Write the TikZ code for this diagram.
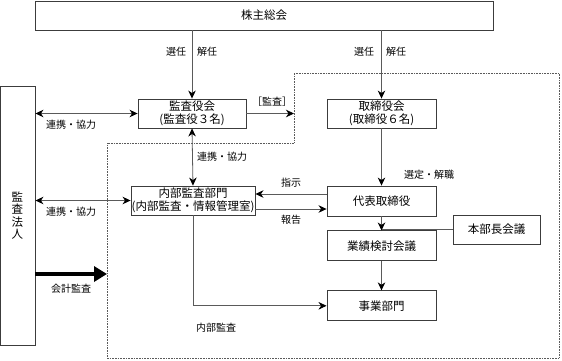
\documentclass[tikz,border=0pt]{standalone}
\usepackage{fontspec}
\setmainfont{Noto Sans CJK JP}
\usepackage{xcolor}
\usetikzlibrary{arrows.meta, positioning, calc}
\definecolor{boxgrey}{RGB}{60, 60, 60}
\definecolor{linegrey}{RGB}{90, 90, 90}

\begin{document}
\begin{tikzpicture}[x=1pt, y=-1pt,
    every node/.style={font=\fontsize{11.5}{12.5}\selectfont, inner sep=0pt},
    orgbox/.style={rectangle, draw=boxgrey, line width=0.9pt, fill=white, minimum width=109pt, minimum height=29pt, align=center},
    lbl/.style={font=\fontsize{10}{11}\selectfont},
    conn/.style={draw=linegrey, line width=0.8pt},
    arr/.style={conn, -{Stealth[length=8pt, width=7.5pt, inset=2.5pt, black]}},
    biarr/.style={conn, {Stealth[length=8pt, width=7.5pt, inset=2.5pt, black]}-{Stealth[length=8pt, width=7.5pt, inset=2.5pt, black]}}
]
\useasboundingbox (0,0) rectangle (562,360);

% executive area (dotted)
\draw[densely dotted, linegrey, line width=0.6pt] (294,73) -- (559,73) -- (559,358) -- (107,358) -- (107,143) -- (294,143) -- cycle;

% shareholders and auditor
\node[orgbox, minimum width=458pt] (gm) at (264,15.5) {株主総会};
\node[orgbox, minimum width=35pt, minimum height=259pt] (aud) at (17.5,215.5) {監\\査\\法\\人};

% boards
\node[orgbox, minimum width=108pt] (kansa) at (192,113.5) {監査役会\\(監査役３名)};
\node[orgbox] (tori) at (381.5,113.5) {取締役会\\(取締役６名)};

% internal audit and executive line
\node[orgbox, minimum width=124pt] (naibu) at (193,200.5) {内部監査部門\\(内部監査・情報管理室)};
\node[orgbox, minimum height=30pt] (daihyo) at (381.5,201) {代表取締役};
\node[orgbox, minimum width=87pt] (honbu) at (496.5,229.5) {本部長会議};
\node[orgbox, below=14pt of daihyo, minimum height=30pt] (gyoseki) {業績検討会議};
\node[orgbox, below=29pt of gyoseki, minimum height=30pt] (jigyo) {事業部門};

\coordinate (kansaout) at (294,113.5);
\coordinate (audout) at (107,274);

% election
\draw[arr] (gm.south -| kansa) -- (kansa.north);
\node[lbl] (sen1) at (176,52) {選任};
\node[lbl] (kai1) at (207,52) {解任};
\draw[arr] (gm.south -| tori) -- (tori.north);
\node[lbl] (sen2) at (364,52) {選任};
\node[lbl] (kai2) at (396,52) {解任};

% audit by statutory auditors
\draw[arr] (kansa.east) -- (kansaout);
\node[lbl] (kansalbl) at (272,102) {［監査］};

% cooperation
\draw[biarr] (aud.east |- kansa) -- (kansa.west);
\node[lbl] (coop1) at (71,124.5) {連携・協力};
\draw[biarr] (kansa.south) -- (naibu.north);
\node[lbl, anchor=west] (coop2) at (197,157) {連携・協力};
\draw[biarr] (aud.east |- naibu) -- (naibu.west);
\node[lbl] (coop3) at (71,211.5) {連携・協力};

% instruction and report
\draw[arr] ($(daihyo.west)+(0,-7)$) -- ($(naibu.east)+(0,-6.5)$);
\node[lbl] (shiji) at (291,183) {指示};
\draw[arr] ($(naibu.east)+(0,8.5)$) -- ($(daihyo.west)+(0,8)$);
\node[lbl] (hokoku) at (291,220) {報告};

% executive chain
\draw[arr] (tori.south) -- (daihyo.north);
\node[lbl] (sentei) at (429,175) {選定・解職};
\draw[arr] (daihyo.south) -- (gyoseki.north);
\draw[conn] (honbu.west) -- (honbu.west -| daihyo);
\draw[arr] (gyoseki.south) -- (jigyo.north);

% internal audit
\draw[arr] (naibu.south) |- (jigyo.west);
\node[lbl] (naibulbl) at (216,327.5) {内部監査};

% accounting audit
\draw[line width=4.5pt, -{Triangle[length=13pt, width=15pt]}] (aud.east |- audout) -- (audout);
\node[lbl] (kaikei) at (71,288.5) {会計監査};

\end{tikzpicture}
\end{document}
